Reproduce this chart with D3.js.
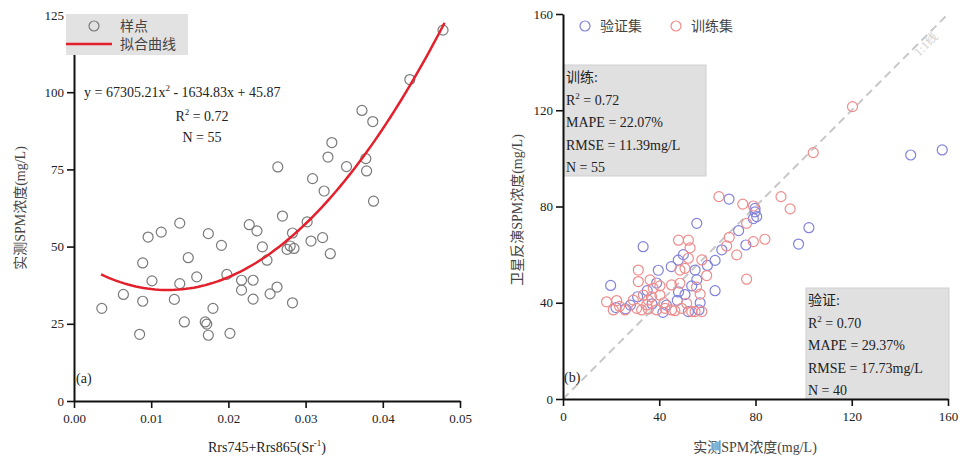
<!DOCTYPE html>
<html>
<head>
<meta charset="utf-8">
<script src="https://cdn.jsdelivr.net/npm/d3@7"></script>
<style>
  body { margin: 0; background: #fff; }
  text { font-family: "Liberation Serif", "Times New Roman", "Noto Sans CJK SC", serif; fill: #222; }
</style>
</head>
<body>
<div class="chart"></div>
<script>
// panel (a): sample points
var sampleX = [0.0036, 0.0064, 0.0085, 0.0089, 0.0089, 0.0096, 0.0101, 0.0113, 0.0130, 0.0137,
  0.0137, 0.0143, 0.0148, 0.0159, 0.0174, 0.0172, 0.0174, 0.0180, 0.0191, 0.0198,
  0.0202, 0.0217, 0.0217, 0.0227, 0.0232, 0.0232, 0.0237, 0.0244, 0.0250, 0.0254,
  0.0263, 0.0264, 0.0270, 0.0276, 0.0283, 0.0285, 0.0283, 0.0302, 0.0307, 0.0309,
  0.0322, 0.0324, 0.0329, 0.0332, 0.0334, 0.0353, 0.0373, 0.0378, 0.0379, 0.0387,
  0.0388, 0.0435, 0.0478, 0.0170, 0.0280]
var sampleY = [30.0, 34.5, 21.6, 32.3, 44.7, 53.1, 38.9, 54.7, 32.9, 57.6,
  38.0, 25.6, 46.4, 40.2, 54.2, 24.9, 21.3, 30.0, 50.4, 41.0,
  21.9, 39.1, 35.9, 57.1, 39.1, 33.0, 55.1, 49.9, 45.6, 34.7,
  36.9, 75.8, 59.9, 49.1, 54.4, 49.4, 31.8, 58.0, 51.8, 72.0,
  52.9, 68.0, 79.0, 47.7, 83.7, 75.9, 94.1, 78.5, 74.5, 90.5,
  64.7, 104.1, 120.1, 25.6, 50.2]
var fitCoef = [67305.21, -1634.83, 45.87]   // a, b, c
var fitRange = [0.0035, 0.048]
var xTicksA = [0, 0.01, 0.02, 0.03, 0.04, 0.05]
var yTicksA = [0, 25, 50, 75, 100, 125]

// panel (b): measured vs retrieved
var trainX = [120.3, 104.0, 64.8, 74.7, 79.1, 90.6, 94.4, 76.3, 83.9, 79.1,
  69.1, 68.0, 72.2, 76.3, 48.0, 52.1, 52.8, 52.1, 57.7, 50.7,
  59.7, 45.1, 48.6, 57.0, 31.3, 31.3, 36.2, 33.4, 40.3, 18.1,
  22.3, 29.2, 35.4, 20.9, 25.8, 30.6, 35.4, 38.9, 42.4, 45.1,
  49.3, 53.5, 57.7, 51.4, 48.6, 36.8, 32.7, 34.8, 46.5, 54.9,
  40.3, 42.0, 37.5, 23.5, 55.5]
var trainY = [121.5, 102.4, 84.1, 81.0, 80.2, 84.1, 79.0, 73.0, 66.4, 65.4,
  67.2, 63.6, 59.9, 49.8, 66.0, 66.0, 62.8, 58.5, 57.8, 54.3,
  51.3, 47.4, 48.1, 43.6, 53.6, 48.8, 49.5, 43.2, 43.2, 40.4,
  40.9, 41.1, 41.1, 37.0, 37.0, 37.7, 37.4, 37.0, 37.7, 37.0,
  37.7, 36.3, 36.3, 39.7, 53.6, 42.5, 37.0, 39.1, 36.7, 36.3,
  47.0, 40.0, 46.0, 38.5, 46.5]
var validX = [144.5, 157.6, 69.0, 79.8, 80.5, 79.1, 55.6, 102.2, 97.9, 76.0,
  33.3, 19.8, 63.2, 47.9, 54.9, 55.6, 63.2, 50.7, 47.5, 39.6,
  38.9, 52.1, 79.8, 43.0, 22.0, 57.0, 53.5, 41.5, 28.0, 56.5,
  37.0, 48.0, 31.0, 45.0, 60.0, 35.0, 50.0, 66.0, 73.0, 26.0]
var validY = [101.4, 103.5, 83.1, 77.8, 75.8, 75.0, 73.0, 71.2, 64.4, 64.0,
  63.3, 47.2, 57.6, 57.7, 53.6, 49.6, 45.0, 43.4, 41.0, 53.5,
  48.2, 36.3, 79.2, 39.0, 38.0, 40.0, 47.0, 36.0, 39.0, 37.0,
  39.5, 44.5, 42.5, 55.0, 55.5, 45.0, 60.0, 62.0, 70.0, 37.5]
var ticksB = [0, 40, 80, 120, 160]
var trainStats = ["训练:", "R2 = 0.72", "MAPE = 22.07%", "RMSE = 11.39mg/L", "N = 55"]
var validStats = ["验证:", "R2 = 0.70", "MAPE = 29.37%", "RMSE = 17.73mg/L", "N = 40"]

var blue = "#8282dc", red = "#ef8c8c"

var svg = d3.select(".chart").append("svg")
  .attr("width", 963)
  .attr("height", 460)

function styleAxis(g) {
  g.select(".domain").attr("stroke", "#111").attr("stroke-width", 2)
  g.selectAll(".tick line").attr("stroke", "#111").attr("stroke-width", 1.6)
  g.selectAll(".tick text").style("font-size", "13px")
    .style("font-family", '"Liberation Serif", serif').attr("fill", "#333")
}

// text with R2 superscript
function supText(sel, str) {
  if (str.indexOf("R2") === 0) {
    sel.append("tspan").text("R")
    sel.append("tspan").attr("dy", -6).style("font-size", "9px").text("2")
    sel.append("tspan").attr("dy", 6).text(str.slice(2))
  } else {
    sel.text(str)
  }
}

// ---------- panel (a) ----------
var xA = d3.scaleLinear().domain([0, 0.05]).range([74, 460])
var yA = d3.scaleLinear().domain([0, 125]).range([401, 15])

svg.append("g").attr("transform", "translate(0,401)")
  .call(d3.axisBottom(xA).tickValues(xTicksA).tickFormat(d3.format(".2f")).tickSize(7).tickSizeOuter(0).tickPadding(6))
  .call(styleAxis)
svg.append("g").attr("transform", "translate(74,0)")
  .call(d3.axisLeft(yA).tickValues(yTicksA).tickSize(7).tickSizeOuter(0).tickPadding(3))
  .call(styleAxis)

svg.append("g").selectAll("circle")
  .data(sampleX)
  .enter().append("circle")
  .attr("cx", function(d) { return xA(d) })
  .attr("cy", function(d, i) { return yA(sampleY[i]) })
  .attr("r", 5)
  .attr("fill", "none")
  .attr("stroke", "#7a7a7a")
  .attr("stroke-width", 1.2)

var curveX = d3.range(fitRange[0], fitRange[1] + 0.00001, 0.0005)
var line = d3.line()
  .x(function(d) { return xA(d) })
  .y(function(d) { return yA(fitCoef[0] * d * d + fitCoef[1] * d + fitCoef[2]) })
svg.append("path").datum(curveX)
  .attr("d", line)
  .attr("fill", "none")
  .attr("stroke", "#e3202b")
  .attr("stroke-width", 2.5)

// legend (a)
svg.append("rect").attr("x", 66).attr("y", 14).attr("width", 122).attr("height", 41).attr("fill", "#e2e2e2")
svg.append("circle").attr("cx", 94).attr("cy", 26).attr("r", 5).attr("fill", "none").attr("stroke", "#7a7a7a").attr("stroke-width", 1.2)
svg.append("line").attr("x1", 66).attr("x2", 112).attr("y1", 44).attr("y2", 44).attr("stroke", "#e3202b").attr("stroke-width", 2.5)
svg.append("text").attr("x", 120).attr("y", 31).style("font-size", "14px").attr("fill", "#444").style("fill", "#444").text("样点")
svg.append("text").attr("x", 120).attr("y", 49).style("font-size", "14px").style("fill", "#444").text("拟合曲线")

var eq = svg.append("text").attr("x", 84).attr("y", 97).style("font-size", "14px")
eq.append("tspan").text("y = 67305.21x")
eq.append("tspan").attr("dy", -6).style("font-size", "9px").text("2")
eq.append("tspan").attr("dy", 6).text(" - 1634.83x + 45.87")
svg.append("text").attr("x", 202).attr("y", 121).attr("text-anchor", "middle").style("font-size", "14px").call(supText, "R2 = 0.72")
svg.append("text").attr("x", 202).attr("y", 142).attr("text-anchor", "middle").style("font-size", "14px").text("N = 55")
svg.append("text").attr("x", 76).attr("y", 383).style("font-size", "14px").text("(a)")

svg.append("text").attr("x", 267).attr("y", 452).attr("text-anchor", "middle").style("font-size", "14px")
  .call(function(s) {
    s.append("tspan").text("Rrs745+Rrs865(Sr")
    s.append("tspan").attr("dy", -6).style("font-size", "9px").text("-1")
    s.append("tspan").attr("dy", 6).text(")")
  })
svg.append("text").attr("transform", "translate(25,208) rotate(-90)").attr("text-anchor", "middle")
  .style("font-size", "14px").style("fill", "#444").text("实测SPM浓度(mg/L)")

// ---------- panel (b) ----------
var xB = d3.scaleLinear().domain([0, 160]).range([563, 948])
var yB = d3.scaleLinear().domain([0, 160]).range([399, 14])

svg.append("line")
  .attr("x1", xB(0)).attr("y1", yB(0)).attr("x2", xB(160)).attr("y2", yB(160))
  .attr("stroke", "#c8c8c8").attr("stroke-width", 2).attr("stroke-dasharray", "8,5")
svg.append("text").attr("transform", "translate(" + xB(152) + "," + (yB(152) + 14) + ") rotate(-45)")
  .attr("text-anchor", "middle").style("font-size", "12px").style("fill", "#d2d2d2").text("1:1线")

// stats boxes
function statBox(x, y, w, h, lines) {
  svg.append("rect").attr("x", x).attr("y", y).attr("width", w).attr("height", h)
    .attr("fill", "#e0e0e0").attr("stroke", "#cfcfcf")
  lines.forEach(function(t, i) {
    svg.append("text").attr("x", x + 2).attr("y", y + 17 + i * 22.5)
      .style("font-size", "14px").call(supText, t)
  })
}
statBox(564, 65, 142, 111, trainStats)
statBox(806, 288, 143, 111, validStats)

svg.append("g").selectAll("circle")
  .data(validX)
  .enter().append("circle")
  .attr("cx", function(d) { return xB(d) })
  .attr("cy", function(d, i) { return yB(validY[i]) })
  .attr("r", 5)
  .attr("fill", "none")
  .attr("stroke", blue)
  .attr("stroke-width", 1.2)

svg.append("g").selectAll("circle")
  .data(trainX)
  .enter().append("circle")
  .attr("cx", function(d) { return xB(d) })
  .attr("cy", function(d, i) { return yB(trainY[i]) })
  .attr("r", 5)
  .attr("fill", "none")
  .attr("stroke", red)
  .attr("stroke-width", 1.2)

svg.append("g").attr("transform", "translate(0,399)")
  .call(d3.axisBottom(xB).tickValues(ticksB).tickSize(7).tickSizeOuter(0).tickPadding(6))
  .call(styleAxis)
svg.append("g").attr("transform", "translate(563,0)")
  .call(d3.axisLeft(yB).tickValues(ticksB).tickSize(7).tickSizeOuter(0).tickPadding(3))
  .call(styleAxis)

// legend (b)
svg.append("circle").attr("cx", 585).attr("cy", 26).attr("r", 5).attr("fill", "none").attr("stroke", blue).attr("stroke-width", 1.2)
svg.append("text").attr("x", 600).attr("y", 31).style("font-size", "14px").style("fill", "#444").text("验证集")
svg.append("circle").attr("cx", 676).attr("cy", 26).attr("r", 5).attr("fill", "none").attr("stroke", red).attr("stroke-width", 1.2)
svg.append("text").attr("x", 691).attr("y", 31).style("font-size", "14px").style("fill", "#444").text("训练集")

svg.append("text").attr("x", 564).attr("y", 382).style("font-size", "14px").text("(b)")
svg.append("text").attr("x", 755).attr("y", 452).attr("text-anchor", "middle").style("font-size", "14px").style("fill", "#444").text("实测SPM浓度(mg/L)")
svg.append("text").attr("transform", "translate(522,210) rotate(-90)").attr("text-anchor", "middle")
  .style("font-size", "14px").style("fill", "#444").text("卫星反演SPM浓度(mg/L)")
</script>
</body>
</html>
